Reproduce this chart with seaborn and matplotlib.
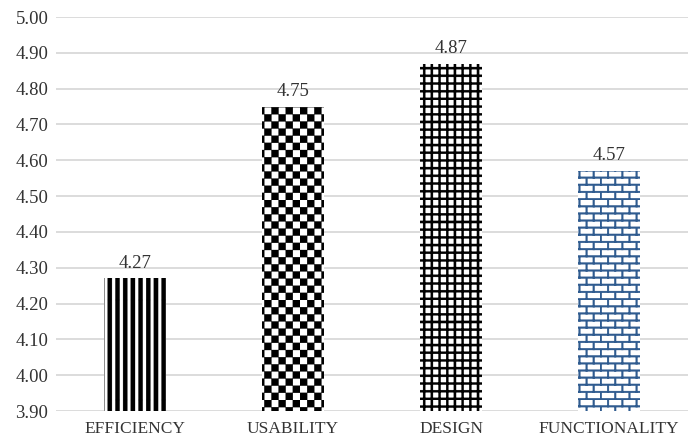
import warnings
import matplotlib
matplotlib.use("Agg")
import matplotlib.pyplot as plt
import matplotlib.hatch as mhatch
from matplotlib.path import Path
import seaborn as sns

warnings.filterwarnings("ignore")

categories = ["EFFICIENCY", "USABILITY", "DESIGN", "FUNCTIONALITY"]
scores = [4.27, 4.75, 4.87, 4.57]
y_ticks = [3.90, 4.00, 4.10, 4.20, 4.30, 4.40, 4.50, 4.60, 4.70, 4.80, 4.90, 5.00]

# pattern per bar: custom hatch symbol + colour
bar_hatches = ["v", "c", "g", "b"]
bar_colors = ["black", "black", "black", "#2f5b8f"]


# --- custom hatch patterns (filled rectangles inside one hatch tile) ---
class RectHatch(mhatch.HatchPatternBase):
    symbol = None

    def __init__(self, hatch, density):
        self.rects = self.make_rects() if self.symbol in hatch else []
        self.num_vertices = 5 * len(self.rects)

    def set_vertices_and_codes(self, vertices, codes):
        for i, (x0, y0, x1, y1) in enumerate(self.rects):
            vertices[5 * i:5 * i + 5] = [(x0, y0), (x1, y0), (x1, y1), (x0, y1), (x0, y0)]
            codes[5 * i:5 * i + 5] = [Path.MOVETO, Path.LINETO, Path.LINETO,
                                      Path.LINETO, Path.CLOSEPOLY]


class Stripes(RectHatch):
    symbol = "v"

    def make_rects(self):
        n = 13
        return [(k / n, 0, k / n + 0.55 / n, 1) for k in range(n)]


class Checker(RectHatch):
    symbol = "c"

    def make_rects(self):
        n = 14
        s = 1 / n
        return [(i * s, j * s, (i + 1) * s, (j + 1) * s)
                for i in range(n) for j in range(n) if (i + j) % 2 == 0]


class Grid(RectHatch):
    symbol = "g"

    def make_rects(self):
        nv, nh, t = 13, 13, 0.022
        v = [(k / nv, 0, k / nv + t, 1) for k in range(nv)]
        h = [(0, k / nh, 1, k / nh + t) for k in range(nh)]
        return v + h


class Brick(RectHatch):
    symbol = "b"

    def make_rects(self):
        rows, cols, t = 14, 7, 0.018
        rh, bw = 1 / rows, 1 / cols
        rects = []
        for r in range(rows):
            rects.append((0, r * rh, 1, r * rh + t))
            off = 0 if r % 2 == 0 else bw / 2
            for k in range(cols):
                x = off + k * bw
                if x + t <= 1:
                    rects.append((x, r * rh, x + t, (r + 1) * rh))
        return rects


mhatch._hatch_types.extend([Stripes, Checker, Grid, Brick])

sns.set_style("white")
plt.rcParams["font.family"] = ["Liberation Serif", "DejaVu Serif"]
plt.rcParams["hatch.linewidth"] = 0.2

fig = plt.figure(figsize=(6.88, 4.42), dpi=100)
ax = fig.add_axes([0.0814, 0.0701, 0.9186, 0.8914])

sns.barplot(x=categories, y=scores, ax=ax, width=0.39, color="white")

for patch, h, c in zip(ax.patches, bar_hatches, bar_colors):
    patch.set_facecolor("white")
    patch.set_edgecolor(c)
    patch.set_linewidth(0)
    patch.set_hatch(h)

ax.bar_label(ax.containers[0], labels=[f"{v:.2f}" for v in scores],
             padding=5, fontsize=13.5, color="#333333")

ax.set_ylim(3.90, 5.00)
ax.set_xlim(-0.5, 3.5)
ax.set_yticks(y_ticks)
ax.set_yticklabels([f"{t:.2f}" for t in y_ticks])
ax.yaxis.grid(True, color="#d9d9d9", linewidth=1.3)
ax.set_axisbelow(True)
for s in ax.spines.values():
    s.set_visible(False)
ax.tick_params(axis="both", length=0, labelcolor="#333333")
ax.tick_params(axis="y", pad=5.5, labelsize=13.5)
ax.tick_params(axis="x", pad=7, labelsize=12.5)
ax.set_xlabel("")
ax.set_ylabel("")

fig.savefig("out.png", dpi=100)
